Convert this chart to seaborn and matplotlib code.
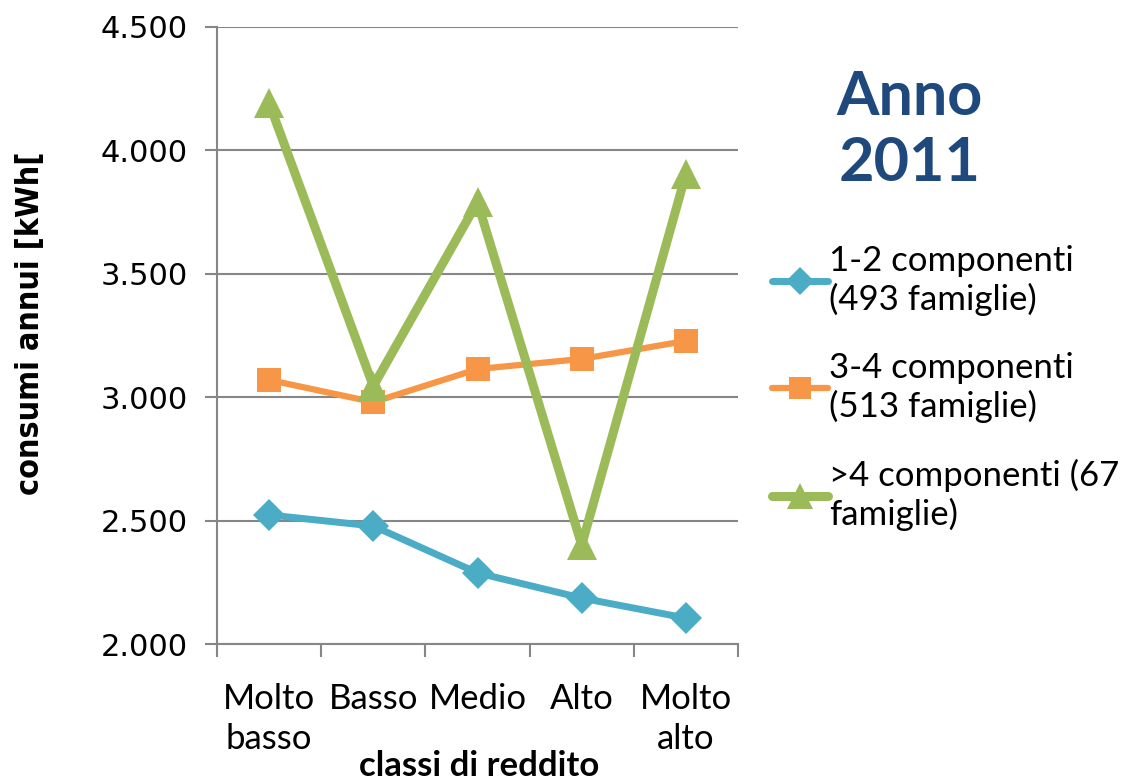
import matplotlib
matplotlib.use("Agg")
import matplotlib.pyplot as plt
import seaborn as sns
import pandas as pd
from matplotlib.lines import Line2D
from matplotlib.ticker import FixedLocator

categories = ["Molto\nbasso", "Basso", "Medio", "Alto", "Molto\nalto"]
serie_12 = [2523, 2478, 2288, 2186, 2105]
serie_34 = [3070, 2980, 3114, 3155, 3228]
serie_4p = [4192, 3045, 3791, 2401, 3904]
labels = ["1-2 componenti\n(493 famiglie)", "3-4 componenti\n(513 famiglie)", ">4 componenti (67\nfamiglie)"]
yticks = [2000, 2500, 3000, 3500, 4000, 4500]
ytick_labels = ["2.000", "2.500", "3.000", "3.500", "4.000", "4.500"]

colors = ["#4BACC6", "#F79646", "#9BBB59"]
markers = ["D", "s", "^"]
msizes = [16, 17, 21]
lwidths = [5.0, 4.5, 6.5]

sns.set_theme(style="white")
plt.rcParams['font.family'] = ['DejaVu Sans']

fig = plt.figure(figsize=(11.22, 7.84), dpi=100)
ax = fig.add_axes([217/1122, 1-644/784, (738-217)/1122, (644-27)/784])

pos = list(range(len(categories)))
for vals, lab, c, m, ms, lw in zip([serie_12, serie_34, serie_4p], labels, colors, markers, msizes, lwidths):
    df = pd.DataFrame({"x": pos, "y": vals})
    sns.lineplot(data=df, x="x", y="y", ax=ax, color=c, marker=m, markersize=ms,
                 markeredgewidth=0, linewidth=lw, legend=False, zorder=3)

ax.set_xlim(-0.5, len(categories) - 0.5)
ax.set_ylim(2000, 4500)
ax.set_yticks(yticks)
ax.set_yticklabels(ytick_labels, fontsize=22, family="DejaVu Sans", color="black")
ax.set_xticks(pos)
ax.set_xticklabels(categories, fontsize=25, family="Lato", linespacing=1.3, va="top", color="black")
ax.xaxis.set_minor_locator(FixedLocator([p - 0.5 for p in pos] + [pos[-1] + 0.5]))
ax.tick_params(axis="x", which="major", length=0, pad=28)
ax.tick_params(axis="x", which="minor", length=9, width=1.5, color="#868686", direction="out", bottom=True)
ax.tick_params(axis="y", length=9, width=1.5, color="#868686", direction="out", left=True, pad=12)

ax.grid(axis="y", color="#868686", linewidth=1.5)
ax.grid(axis="x", visible=False)
for s in ["top", "right"]:
    ax.spines[s].set_visible(False)
for s in ["left", "bottom"]:
    ax.spines[s].set_color("#868686")
    ax.spines[s].set_linewidth(1.5)

ax.set_xlabel("")
ax.set_ylabel("")
fig.text(31/1122, 1-323/784, "consumi annui [kWh[", rotation=90, ha="center", va="center",
         fontsize=23, fontweight="bold", family="DejaVu Sans", fontstretch="condensed", color="black")
fig.text(479/1122, 1-766/784, "classi di reddito", ha="center", va="center",
         fontsize=25, fontweight="bold", family="Lato", color="black")

fig.text(910/1122, 1-130/784, "Anno\n2011", ha="center", va="center", fontsize=44,
         fontweight="bold", color="#1F497D", family="Lato", linespacing=1.2)

handles = [Line2D([0], [0], color=c, marker=m, markersize=ms * 0.9, markeredgewidth=0, linewidth=lw)
           for c, m, ms, lw in zip(colors, markers, msizes, lwidths)]
fig.legend(handles, labels, loc="upper left", bbox_to_anchor=(772/1122, 1-245/784), frameon=False,
           prop={"family": "Lato", "size": 25}, handlelength=1.6, handletextpad=0.05,
           labelspacing=1.05, borderpad=0, borderaxespad=0, labelcolor="black")

fig.savefig("out.png", dpi=100)
